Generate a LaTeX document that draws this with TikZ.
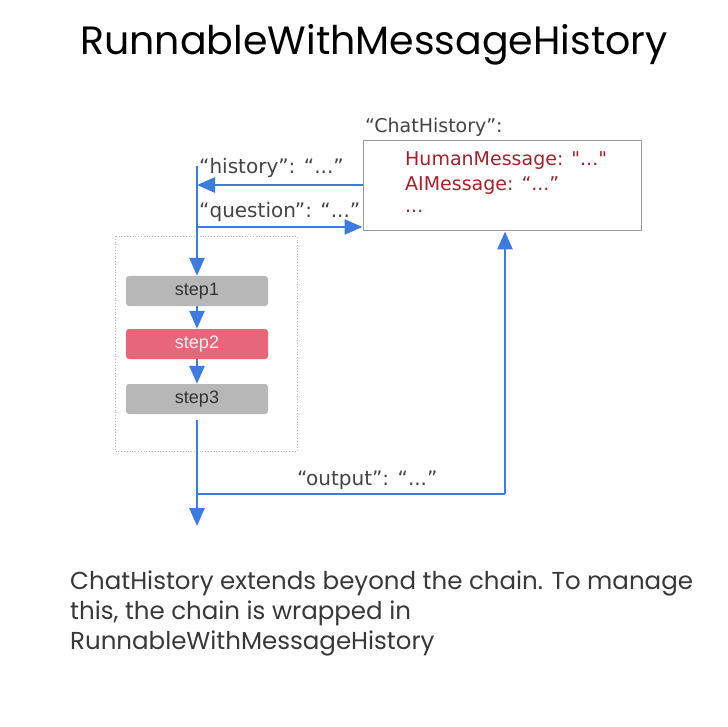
\documentclass[tikz,border=0pt]{standalone}
\usepackage{fontspec}
\usetikzlibrary{arrows.meta}
\newfontfamily\popf{Poppins}
\newfontfamily\dvf{DejaVu Sans}
\newfontfamily\libf{Liberation Sans}
\definecolor{arrblue}{HTML}{3C7BE0}
\definecolor{msgred}{HTML}{A8202A}
\definecolor{stepgrey}{HTML}{B7B7B7}
\definecolor{stepred}{HTML}{E8667A}
\definecolor{lbl}{HTML}{444444}
\definecolor{boxgrey}{HTML}{9A9A9A}
\begin{document}
\begin{tikzpicture}[x=1pt,y=-1pt,
  arr/.style={draw=arrblue,line width=2.8pt,-{Triangle[length=18pt,width=15pt]}},
  ln/.style={draw=arrblue,line width=2.8pt},
  lab/.style={anchor=west,inner sep=0pt,text=lbl,font=\dvf\fontsize{20}{24}\selectfont},
  msg/.style={anchor=west,inner sep=0pt,text=msgred,font=\dvf\fontsize{19}{23}\selectfont},
  stepbox/.style={rounded corners=3pt,minimum width=142pt,minimum height=30pt,inner sep=0pt,font=\libf\fontsize{18}{21}\selectfont}]
\path[fill=white] (0,0) rectangle (728,727);
\useasboundingbox (0,0) rectangle (728,727);
% title
\node[inner sep=0pt,font=\popf\fontsize{39.5}{44}\selectfont] (title) at (374,45) {RunnableWithMessageHistory};
% chat history box
\node[draw=boxgrey,line width=1pt,minimum width=278pt,minimum height=90pt,inner sep=0pt] (chat) at (502,186) {};
\node[lab,font=\dvf\fontsize{19}{23}\selectfont] (chatlbl) at (365,127) {“ChatHistory”:};
\node[msg] (m1) at (405,161) {HumanMessage: "..."};
\node[msg] (m2) at (405,186) {AIMessage: “...”};
\node[msg] (m3) at (405,211) {...};
% dotted chain box
\draw[draw=gray!55,dotted,line width=0.8pt] (115,236) rectangle (297,451);
\node[stepbox,fill=stepgrey,text=black!80] (s1) at (197,291) {step1};
\node[stepbox,fill=stepred,text=white!95!black] (s2) at (197,344) {step2};
\node[stepbox,fill=stepgrey,text=black!80] (s3) at (197,399) {step3};
% coordinates
\coordinate (top) at (197,166);
\coordinate (hy) at (197,185);
\coordinate (qy) at (197,227);
\coordinate (s3out) at (197,420);
\coordinate (j) at (197,494);
\coordinate (bot) at (197,526);
\coordinate (oc) at (505,494);
% labels
\node[lab] (hist) at (199,168) {“history”: “...”};
\node[lab] (ques) at (199,212) {“question”: “...”};
\node[lab] (outl) at (297,480) {“output”: “...”};
% arrows
\draw[arr] (top) -- (s1.north);
\draw[arr] (chat.west |- hy) -- (hy);
\draw[arr] (qy) -- (chat.west |- qy);
\draw[arr] (s1.south) -- (s2.north);
\draw[arr] (s2.south) -- (s3.north);
\draw[arr] (s3out) -- (bot);
\draw[ln] (j) -- (oc);
\draw[arr] (oc) -- (oc |- chat.south);
% bottom text
\node[anchor=north west,inner sep=0pt,align=left,text=black!78,font=\popf\fontsize{24.5}{29.8}\selectfont] (desc) at (70,571) {ChatHistory extends beyond the chain. To manage\\this, the chain is wrapped in\\RunnableWithMessageHistory};
\end{tikzpicture}
\end{document}
